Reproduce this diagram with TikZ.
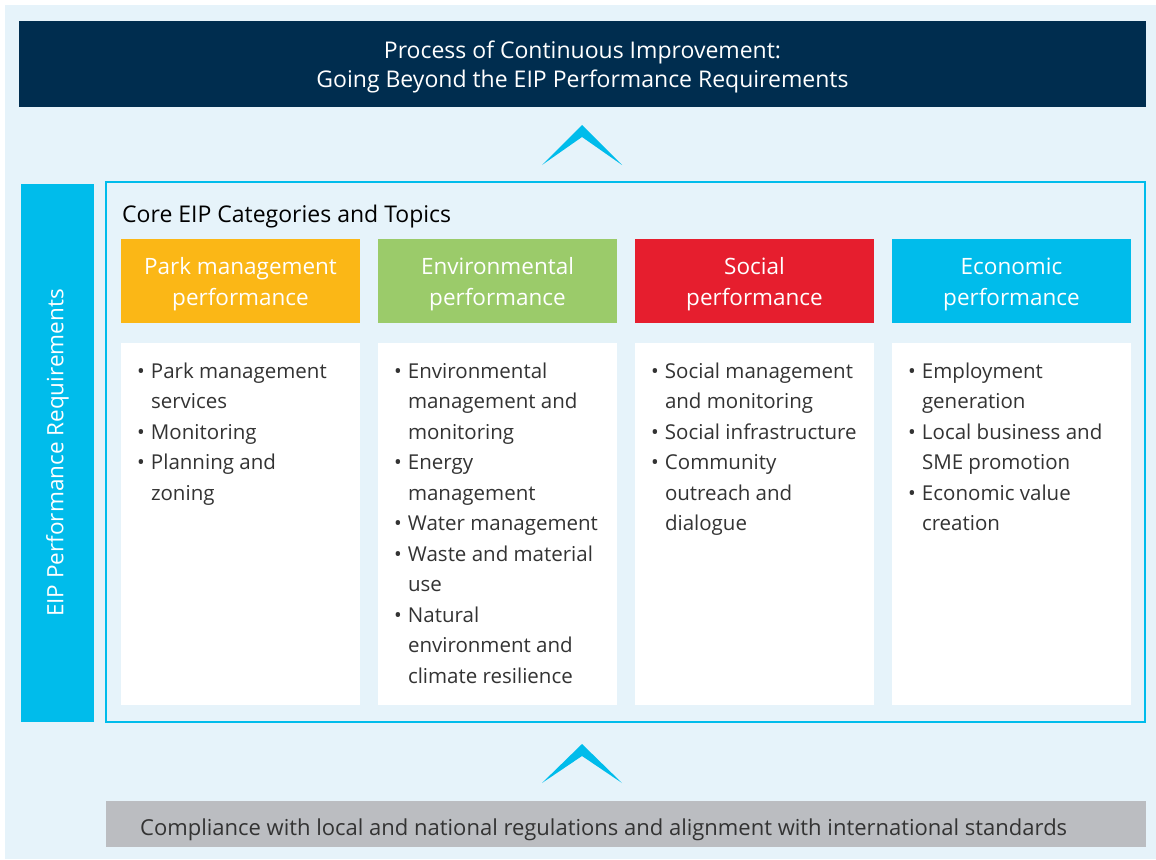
\documentclass[tikz,border=0pt]{standalone}
\usepackage{fontspec}
\setmainfont{Open Sans}
\usetikzlibrary{positioning}
\definecolor{eipbg}{HTML}{E6F3FA}
\definecolor{eipnavy}{HTML}{002D4F}
\definecolor{eipcyan}{HTML}{00BCEB}
\definecolor{eiporange}{HTML}{FBB716}
\definecolor{eipgreen}{HTML}{9BCB6A}
\definecolor{eipred}{HTML}{E61E2E}
\definecolor{eipgray}{HTML}{BBBDC1}
\definecolor{eiptext}{HTML}{333333}
\newcommand{\itm}{\makebox[14pt][l]{•}}
\newcommand{\cnt}{\hspace*{14pt}}
\tikzset{
  catbox/.style={minimum width=239pt, minimum height=84pt, inner sep=0pt},
  cattext/.style={text=white, align=center, inner sep=0pt,
    font=\fontsize{22.5}{31}\selectfont},
  topicbox/.style={fill=white, minimum width=239pt, minimum height=362pt, inner sep=0pt},
  topictext/.style={anchor=north west, align=left, inner sep=0pt, text=eiptext,
    font=\fontsize{20.5}{30.5}\selectfont},
  chevron/.style={fill=eipcyan, draw=none},
}
\begin{document}
\begin{tikzpicture}[x=1pt,y=-1pt]
\useasboundingbox (0,0) rectangle (1156,859);
\fill[eipbg] (5,5) rectangle (1156,859);
% top banner
\node[fill=eipnavy, minimum width=1127pt, minimum height=86pt, inner sep=0pt] (goal) at (582.5,64) {};
\node[text=white, align=center, inner sep=0pt, font=\fontsize{23}{29}\selectfont]
  (goaltext) at ([yshift=-3pt]goal.center)
  {Process of Continuous Improvement:\\Going Beyond the EIP Performance Requirements};
% side bar
\node[fill=eipcyan, minimum width=73pt, minimum height=538pt, inner sep=0pt] (req) at (57.5,453) {};
\node[rotate=90, text=white, font=\fontsize{22.5}{25}\selectfont] (reqtext) at (req.center)
  {EIP Performance Requirements};
% frame of the core categories
\node[draw=eipcyan, line width=1.5pt, minimum width=1039pt, minimum height=540pt,
  inner sep=0pt] (core) at (625.5,452) {};
\node[anchor=base west, inner sep=0pt, text=black, font=\fontsize{23}{25}\selectfont]
  (coretitle) at (122,222) {Core EIP Categories and Topics};
% category headers
\node[catbox, fill=eiporange] (park) at (240.5,281) {};
\node[catbox, fill=eipgreen] (env) at (497.5,281) {};
\node[catbox, fill=eipred] (soc) at (754.5,281) {};
\node[catbox, fill=eipcyan] (eco) at (1011.5,281) {};
\node[cattext] (parkh) at ([yshift=-3pt]park.center) {Park management\\performance};
\node[cattext] (envh) at ([yshift=-3pt]env.center) {Environmental\\performance};
\node[cattext] (soch) at ([yshift=-3pt]soc.center) {Social\\performance};
\node[cattext] (ecoh) at ([yshift=-3pt]eco.center) {Economic\\performance};
% topic boxes
\node[topicbox, below=19.5pt of park] (parkt) {};
\node[topicbox, below=19.5pt of env] (envt) {};
\node[topicbox, below=19.5pt of soc] (soct) {};
\node[topicbox, below=19.5pt of eco] (ecot) {};
\node[topictext] (parkl) at ([xshift=16pt,yshift=-20pt]parkt.north west)
  {\itm Park management\\\cnt services\\\itm Monitoring\\\itm Planning and\\\cnt zoning};
\node[topictext] (envl) at ([xshift=16pt,yshift=-20pt]envt.north west)
  {\itm Environmental\\\cnt management and\\\cnt monitoring\\\itm Energy\\\cnt management\\
   \itm Water management\\\itm Waste and material\\\cnt use\\\itm Natural\\
   \cnt environment and\\\cnt climate resilience};
\node[topictext] (socl) at ([xshift=16pt,yshift=-20pt]soct.north west)
  {\itm Social management\\\cnt and monitoring\\\itm Social infrastructure\\
   \itm Community\\\cnt outreach and\\\cnt dialogue};
\node[topictext] (ecol) at ([xshift=16pt,yshift=-20pt]ecot.north west)
  {\itm Employment\\\cnt generation\\\itm Local business and\\\cnt SME promotion\\
   \itm Economic value\\\cnt creation};
% compliance base
\node[fill=eipgray, minimum width=1040pt, minimum height=46pt, inner sep=0pt] (base) at (626,824) {};
\node[anchor=base west, inner sep=0pt, text=eiptext, font=\fontsize{22}{25}\selectfont]
  (basetext) at (140,835)
  {Compliance with local and national regulations and alignment with international standards};
% chevrons
\coordinate (up1) at (582,125);
\coordinate (up2) at (582,744);
\fill[chevron] (up1) -- ++(40,40) -- ++(-40,-28) -- ++(-40,28) -- cycle;
\fill[chevron] (up2) -- ++(40,39) -- ++(-40,-27) -- ++(-40,27) -- cycle;
\end{tikzpicture}
\end{document}
